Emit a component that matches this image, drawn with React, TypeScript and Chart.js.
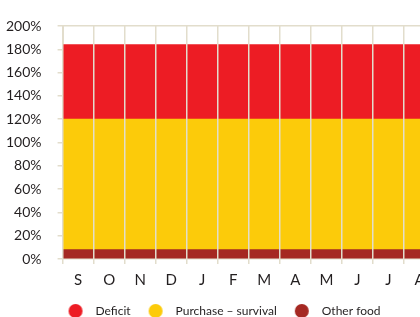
import React, { useEffect, useRef } from "react";
import { Chart, registerables } from "chart.js";

Chart.register(...registerables);

const months = ["S", "O", "N", "D", "J", "F", "M", "A", "M", "J", "J", "A"];
const otherFood = [8, 8, 8, 8, 8, 8, 8, 8, 8, 8, 8, 8];
const purchaseSurvival = [112, 112, 112, 112, 112, 112, 112, 112, 112, 112, 112, 112];
const deficit = [64, 64, 64, 64, 64, 64, 64, 64, 64, 64, 64, 64];
const yTicks = [0, 20, 40, 60, 80, 100, 120, 140, 160, 180, 200];

const FONT = "Lato, 'Open Sans', sans-serif";
const GRID = "#e2ddcc";
const TEXT = "#231f20";

function dot(color: string): HTMLCanvasElement {
  const c = document.createElement("canvas");
  c.width = 30;
  c.height = 14;
  const g = c.getContext("2d")!;
  g.fillStyle = color;
  g.beginPath();
  g.arc(16, 7, 7, 0, Math.PI * 2);
  g.fill();
  return c;
}

export default function App() {
  const ref = useRef<HTMLCanvasElement | null>(null);
  useEffect(() => {
    if (!ref.current) return;
    const chart = new Chart(ref.current, {
      type: "bar",
      data: {
        labels: months,
        datasets: [
          { label: "Other food", data: otherFood, backgroundColor: "#a52822", borderWidth: 0, pointStyle: dot("#a52822") as any },
          { label: "Purchase – survival", data: purchaseSurvival, backgroundColor: "#fccb0a", borderWidth: 0, pointStyle: dot("#fccb0a") as any },
          { label: "Deficit", data: deficit, backgroundColor: "#ed1c24", borderWidth: 0, pointStyle: dot("#ed1c24") as any },
        ],
      },
      options: {
        responsive: false,
        animation: false,
        devicePixelRatio: 1,
        layout: { padding: { top: 26, left: 0, right: 0, bottom: 0 } },
        datasets: { bar: { barPercentage: 1, categoryPercentage: 1 } },
        scales: {
          x: {
            stacked: true,
            offset: true,
            grid: { color: GRID, lineWidth: 1.5, z: 1, tickLength: 5, drawOnChartArea: true, offset: true },
            border: { display: false },
            ticks: { color: TEXT, padding: 7, font: { family: FONT, size: 15 } },
          },
          y: {
            stacked: true,
            min: 0,
            max: 200,
            afterBuildTicks: (axis: any) => {
              axis.ticks = yTicks.map((v) => ({ value: v }));
            },
            grid: { color: GRID, lineWidth: 1.5, tickLength: 5 },
            border: { display: true, color: GRID, width: 2 },
            ticks: {
              color: TEXT,
              padding: 16,
              font: { family: FONT, size: 14 },
              callback: (v: any) => v + "%",
            },
          },
          yR: {
            position: "right",
            min: 0,
            max: 1,
            grid: { display: false },
            border: { display: false },
            ticks: { display: false },
            afterFit: (scale: any) => {
              scale.width = 15;
            },
          },
        },
        plugins: {
          tooltip: { enabled: false },
          legend: {
            position: "bottom",
            reverse: true,
            labels: {
              usePointStyle: true,
              pointStyleWidth: 30,
              boxHeight: 12,
              padding: 9,
              color: TEXT,
              font: { family: FONT, size: 12 },
            },
          },
        },
      },
    });
    return () => chart.destroy();
  }, []);
  return (
    <div style={{ position: "fixed", left: 0, top: 0, width: 420, height: 317, overflow: "hidden", background: "#fff" }}>
      <canvas ref={ref} width={460} height={327} style={{ display: "block", marginLeft: -10 }} />
    </div>
  );
}
